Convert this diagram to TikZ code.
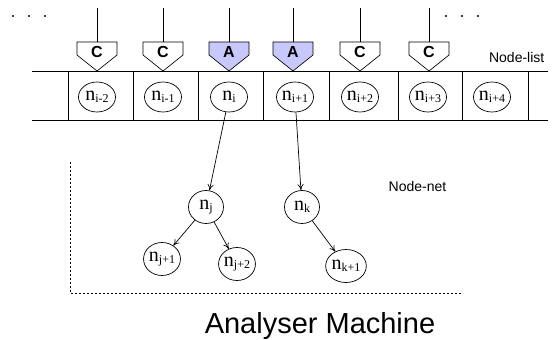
\documentclass[tikz,border=0pt]{standalone}
\usepackage{fontspec}
\setmainfont{Liberation Serif}
\newfontfamily\labsans{Liberation Sans}
\usetikzlibrary{positioning,shapes.geometric,arrows.meta}
\definecolor{tagblue}{RGB}{200,200,252}

\newcommand{\nsub}[1]{{\fontsize{20}{20}\selectfont n}\raisebox{-2.5pt}{\fontsize{12}{12}\selectfont #1}}

\begin{document}
\begin{tikzpicture}[x=1pt,y=-1pt,line width=0.7pt,
    listnode/.style={ellipse,draw,inner sep=0pt,minimum width=37pt,minimum height=30pt},
    netnode/.style={ellipse,draw,inner sep=0pt,minimum width=35pt,minimum height=33pt},
    tagtext/.style={inner sep=0pt,font=\labsans\fontsize{16}{16}\selectfont\bfseries},
    >={To[length=6pt,width=6pt]}]
    \useasboundingbox (0,0) rectangle (558,340);

    % node list
    \draw (32,71) -- (548,71);
    \draw (32,120) -- (548,120);
    \foreach \x in {68,133,198,263,329,398,462,528}
       \draw (\x,71) -- (\x,120);
    \foreach \x/\nm/\lab in {97/nim2/i-2,163/nim1/i-1,229/ni/i,295/nip1/i+1,
                             360/nip2/i+2,428/nip3/i+3,492/nip4/i+4}
       \node[listnode] (\nm) at (\x,97) {\nsub{\lab}};

    % tags
    \foreach \x/\t/\c [count=\k] in {97/C/white,163/C/white,229/A/tagblue,
                                     293/A/tagblue,360/C/white,429/C/white} {
       \draw[fill=\c] (\x-20,42) -- (\x+20,42) -- (\x+20,55) -- (\x,71)
          -- (\x-20,55) -- cycle;
       \node[tagtext] (tag\k) at (\x,52) {\t};
       \coordinate (top\k) at (\x,8);
       \coordinate (tagtop\k) at (\x,42);
       \draw (top\k) -- (tagtop\k);
    }
    \foreach \x in {13,29,45,446,462,478}
       \fill (\x,16) circle (1.1pt);
    \node[font=\labsans\fontsize{14}{14}\selectfont,anchor=base east] (listlab) at (548,63) {Node-list};

    % node net
    \node[netnode] (nj) at (206,207) {\nsub{j}};
    \node[netnode] (nk) at (302,207) {\nsub{k}};
    \node[netnode] (njp1) at (162,259) {\nsub{j+1}};
    \node[netnode] (njp2) at (237,264) {\nsub{j+2}};
    \node[netnode] (nkp1) at (346,266) {\nsub{k+1}};
    \draw[->] (ni) -- (nj);
    \draw[->] (nip1) -- (nk);
    \draw[->] (nj) -- (njp1);
    \draw[->] (nj) -- (njp2);
    \draw[->] (nk) -- (nkp1);
    \draw[dash pattern=on 2pt off 2pt] (70,162) -- (70,293) -- (462,293);
    \node[font=\labsans\fontsize{14}{14}\selectfont,anchor=base west] (netlab) at (385,191) {Node-net};

    \node[font=\labsans\fontsize{29}{29}\selectfont,anchor=base] (title) at (320,333) {Analyser Machine};
\end{tikzpicture}
\end{document}
